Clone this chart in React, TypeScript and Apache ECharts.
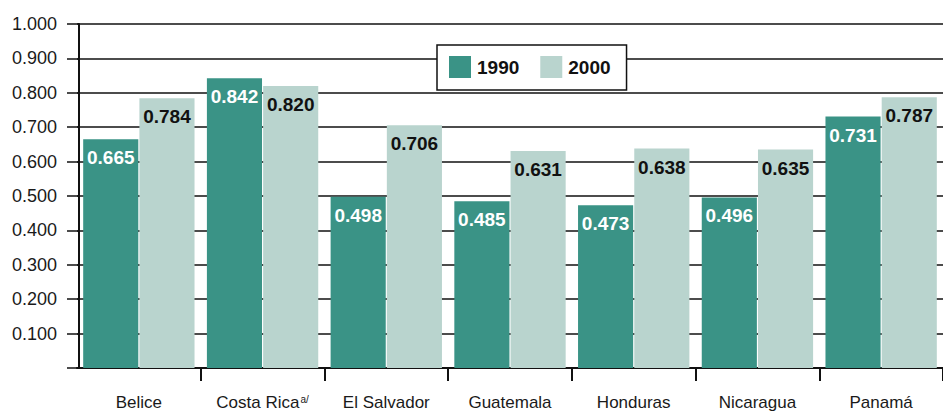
import React, { useEffect, useRef } from "react";
import * as echarts from "echarts";

const categories = ["Belice", "Costa Rica", "El Salvador", "Guatemala", "Honduras", "Nicaragua", "Panamá"];
const values1990 = [0.665, 0.842, 0.498, 0.485, 0.473, 0.496, 0.731];
const values2000 = [0.784, 0.82, 0.706, 0.631, 0.638, 0.635, 0.787];
const seriesNames = ["1990", "2000"];
const yTicks = { min: 0, max: 1, interval: 0.1 };

const FONT = "'Liberation Sans', Arial, sans-serif";
const TEAL = "#3a9386";
const LIGHT = "#b9d4ce";

export default function App() {
  const ref = useRef<HTMLDivElement>(null);
  useEffect(() => {
    if (!ref.current) return;
    const chart = echarts.init(ref.current, undefined, { renderer: "svg" });
    const labelBase = {
      show: true,
      position: "insideTop" as const,
      distance: 9,
      fontFamily: FONT,
      fontSize: 19,
      fontWeight: "bold" as const,
      formatter: (p: any) => Number(p.value).toFixed(3),
    };
    chart.setOption({
      animation: false,
      textStyle: { fontFamily: FONT },
      grid: { left: 77, top: 24, width: 872, height: 344, containLabel: false },
      legend: {
        data: seriesNames,
        left: 437,
        top: 45,
        orient: "horizontal",
        itemWidth: 22,
        itemHeight: 22,
        itemGap: 21,
        padding: [11, 16, 12, 12],
        backgroundColor: "#ffffff",
        borderColor: "#111",
        borderWidth: 1.5,
        borderRadius: 0,
        icon: "rect",
        textStyle: { fontFamily: FONT, fontSize: 19, fontWeight: "bold", color: "#111", padding: [0, 0, 0, 1] },
      },
      xAxis: {
        type: "category",
        data: categories,
        axisLine: { show: true, lineStyle: { color: "#111", width: 2 } },
        axisTick: {
          show: true,
          length: 13,
          lineStyle: { color: "#111", width: 2 },
          interval: (idx: number) => idx !== 0,
        },
        axisLabel: {
          interval: 0,
          margin: 26,
          fontFamily: FONT,
          fontSize: 17,
          color: "#1a1a1a",
          formatter: (v: string) => (v === "Costa Rica" ? "Costa Rica{sup|a/}" : v),
          rich: {
            sup: { fontSize: 10, fontFamily: FONT, color: "#1a1a1a", verticalAlign: "top", padding: [0, 0, 6, 1] },
          },
        },
      },
      yAxis: {
        type: "value",
        min: yTicks.min,
        max: yTicks.max,
        interval: yTicks.interval,
        offset: -2,
        axisLine: { show: true, lineStyle: { color: "#111", width: 2 } },
        axisTick: { show: true, length: 12, lineStyle: { color: "#111", width: 1.5 } },
        axisLabel: {
          margin: 22,
          fontFamily: FONT,
          fontSize: 18,
          color: "#1a1a1a",
          formatter: (v: number) => (v === 0 ? "" : v.toFixed(3)),
        },
        splitLine: { show: true, lineStyle: { color: "#111", width: 1.5 } },
      },
      series: [
        {
          name: seriesNames[0],
          type: "bar",
          data: values1990,
          barGap: "2%",
          barCategoryGap: "10%",
          itemStyle: { color: TEAL },
          label: { ...labelBase, color: "#ffffff" },
        },
        {
          name: seriesNames[1],
          type: "bar",
          data: values2000,
          barGap: "2%",
          barCategoryGap: "10%",
          itemStyle: { color: LIGHT },
          label: { ...labelBase, color: "#111111" },
        },
      ],
    });
    return () => chart.dispose();
  }, []);
  return <div ref={ref} style={{ width: 943, height: 415, position: "absolute", left: 0, top: 0 }} />;
}
